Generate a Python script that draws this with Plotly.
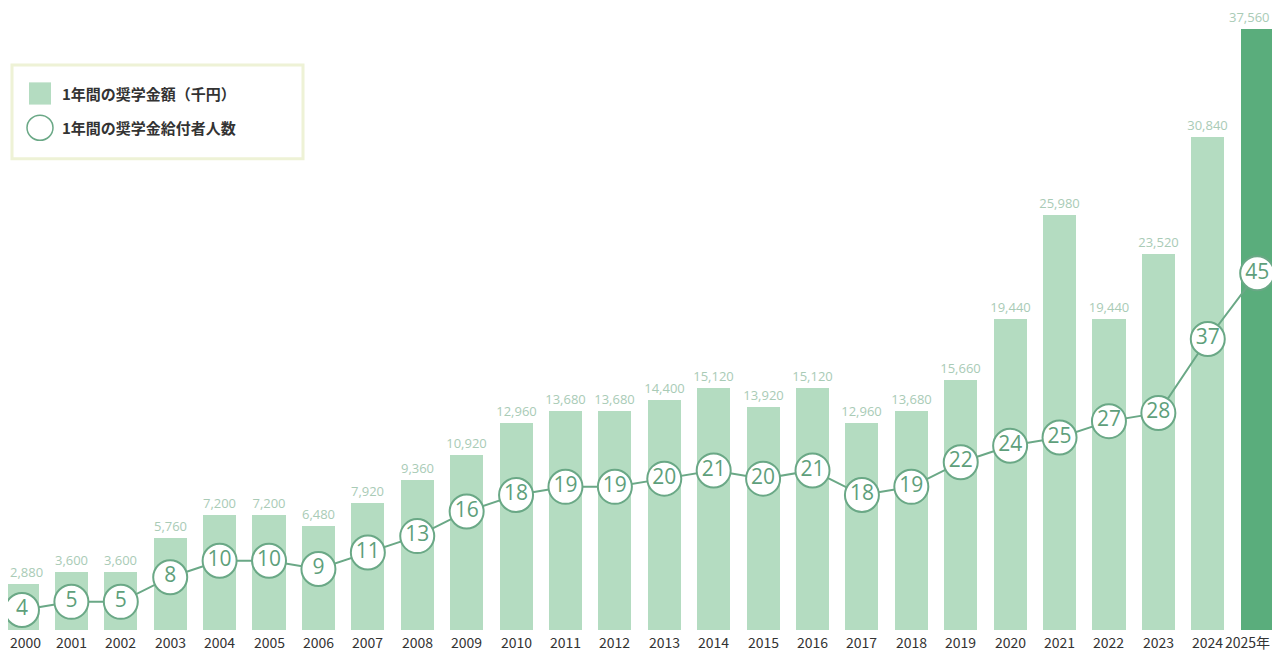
import plotly.graph_objects as go

years = [str(y) for y in range(2000, 2026)]
tick_labels = years[:-1] + ["2025年"]
amounts = [2880, 3600, 3600, 5760, 7200, 7200, 6480, 7920, 9360, 10920, 12960, 13680, 13680,
           14400, 15120, 13920, 15120, 12960, 13680, 15660, 19440, 25980, 19440, 23520, 30840, 37560]
people = [4, 5, 5, 8, 10, 10, 9, 11, 13, 16, 18, 19, 19, 20, 21, 20, 21, 18, 19, 22, 24, 25, 27, 28, 37, 45]

x = list(range(len(years)))
n = len(years)
colors = ["#b4dcc1"] * (n - 1) + ["#5aad7c"]
font = "Noto Sans CJK JP"
W, H = 1264, 644
OX, OY = 8, 8

def px(v):
    return (v - OX) / W

def py(v):
    return 1 - (v - OY) / H

def anchor(i):
    return "left" if i == 0 else ("right" if i == n - 1 else "center")

def xpos(i):
    return 0 if i == 0 else (1 if i == n - 1 else None)

bar_text = [("" if i in (0, n - 1) else f"{v:,}") for i, v in enumerate(amounts)]

fig = go.Figure()
fig.add_trace(go.Bar(x=x, y=amounts, width=0.67, marker=dict(color=colors, line=dict(width=0)),
                     text=bar_text, textposition="outside", cliponaxis=False,
                     constraintext="none",
                     textfont=dict(size=13, color="#a9cbb6", family="Open Sans")))
fig.add_trace(go.Scatter(x=x, y=people, yaxis="y2", mode="lines+markers+text",
                         line=dict(color="#6aa886", width=2),
                         marker=dict(size=34, color="white", line=dict(color="#6aa886", width=2)),
                         text=[str(p) for p in people], textposition="middle center",
                         textfont=dict(size=21, color="#5e9f7b", family="Open Sans"), cliponaxis=False))

annotations = [
    dict(xref="paper", yref="paper", x=px(60), y=py(97), text="<b>1年間の奨学金額（千円）</b>",
         showarrow=False, xanchor="left", yanchor="middle", font=dict(size=15, color="#333333", family=font)),
    dict(xref="paper", yref="paper", x=px(60), y=py(132), text="<b>1年間の奨学金給付者人数</b>",
         showarrow=False, xanchor="left", yanchor="middle", font=dict(size=15, color="#333333", family=font)),
]
for i in (0, n - 1):
    annotations.append(dict(x=xpos(i), xref="paper", y=amounts[i], yref="y", yanchor="bottom", yshift=1,
                            xanchor=anchor(i), text=f"{amounts[i]:,}", showarrow=False,
                            font=dict(size=13, color="#a9cbb6", family="Open Sans")))
for i, lab in enumerate(tick_labels):
    a = dict(yref="paper", y=0, yshift=0, yanchor="top", text=lab, showarrow=False,
             xanchor=anchor(i), font=dict(size=14, color="#333333", family=font))
    if xpos(i) is None:
        a.update(x=i, xref="x")
    else:
        a.update(x=xpos(i), xref="paper")
    annotations.append(a)

fig.update_layout(
    width=W, height=H, margin=dict(l=0, r=0, t=0, b=22),
    paper_bgcolor="white", plot_bgcolor="white", showlegend=False, bargap=0,
    xaxis=dict(range=[-0.283, 25.30], showticklabels=False, showgrid=False, zeroline=False,
               showline=False, ticks=""),
    yaxis=dict(range=[0, 38900], visible=False, showgrid=False),
    yaxis2=dict(range=[1.57, 77.3], overlaying="y", visible=False, showgrid=False),
    font=dict(family=font),
    shapes=[
        dict(type="rect", xref="paper", yref="paper", x0=px(12), x1=px(303), y0=py(164), y1=py(67),
             line=dict(color="#eef2d6", width=3), fillcolor="white"),
        dict(type="rect", xref="paper", yref="paper", x0=px(29), x1=px(51), y0=py(108), y1=py(85),
             line=dict(width=0), fillcolor="#b4dcc1"),
        dict(type="circle", xref="paper", yref="paper", x0=px(27), x1=px(53), y0=py(145), y1=py(119),
             line=dict(color="#6aa886", width=1.5), fillcolor="white"),
    ],
    annotations=annotations,
)
fig.write_html("out.html")
